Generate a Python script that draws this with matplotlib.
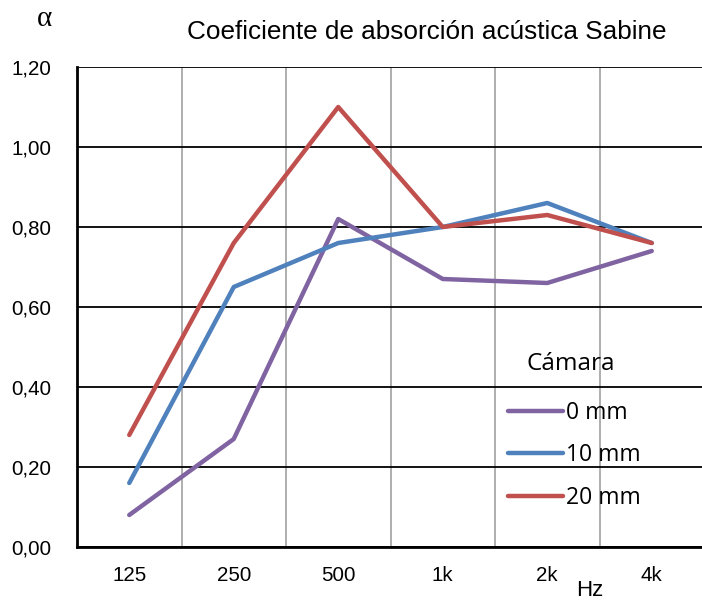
import matplotlib
matplotlib.use("Agg")
import matplotlib.pyplot as plt
import numpy as np

# data
freqs = ["125", "250", "500", "1k", "2k", "4k"]
cam_0mm = [0.08, 0.27, 0.82, 0.67, 0.66, 0.74]
cam_10mm = [0.16, 0.65, 0.76, 0.80, 0.86, 0.76]
cam_20mm = [0.28, 0.76, 1.10, 0.80, 0.83, 0.76]
y_ticks = [0.0, 0.2, 0.4, 0.6, 0.8, 1.0, 1.2]

plt.rcParams['font.family'] = ['Liberation Sans', 'DejaVu Sans']

fig = plt.figure(figsize=(7.02, 6.01), dpi=100)
ax = fig.add_axes([77/702, 54/601, 627/702, 480/601])

x = np.arange(len(freqs))
ax.plot(x, cam_0mm, color="#8064A2", lw=3.2, solid_capstyle="round", label="0 mm", zorder=3)
ax.plot(x, cam_10mm, color="#4F81BD", lw=3.2, solid_capstyle="round", label="10 mm", zorder=3)
ax.plot(x, cam_20mm, color="#C0504D", lw=3.2, solid_capstyle="round", label="20 mm", zorder=3)

ax.set_xlim(-0.5, len(freqs) - 0.5)
ax.set_ylim(0, 1.2)
ax.set_xticks(x)
ax.set_xticklabels(freqs)
ax.set_xticks(x[:-1] + 0.5, minor=True)
ax.set_yticks(y_ticks)
ax.set_yticklabels([f"{v:.2f}".replace(".", ",") for v in y_ticks])
ax.tick_params(axis="both", which="both", length=0, labelsize=14.8)
ax.tick_params(axis="x", pad=14)
ax.tick_params(axis="y", pad=18.5)

ax.grid(axis="y", which="major", color="black", lw=1.3, zorder=1)
ax.grid(axis="x", which="minor", color="#999999", lw=1.1, zorder=1)
ax.set_axisbelow(True)

for s in ["top", "right"]:
    ax.spines[s].set_visible(False)
ax.spines["left"].set_linewidth(2)
ax.spines["bottom"].set_linewidth(2)

# legend without title, title added as separate text
leg = ax.legend(loc="upper left", bbox_to_anchor=(0.655, 0.348),
                frameon=False, handlelength=2.4, handletextpad=0.12,
                labelspacing=0.82, prop={"family": "Open Sans", "size": 16.5})
fig.text(571/702, 1 - 364/601, "Cámara", ha="center", va="center",
         fontsize=17.5, family="Open Sans")

fig.text(427/702, 1 - 32/601, "Coeficiente de absorción acústica Sabine",
         ha="center", va="center", fontsize=18.8)
fig.text(45/702, 1 - 19/601, "α", ha="center", va="center", fontsize=21,
         family="Liberation Serif")
fig.text(590/702, 1 - 591/601, "Hz", ha="center", va="center", fontsize=16)

fig.savefig("out.png", dpi=100)
